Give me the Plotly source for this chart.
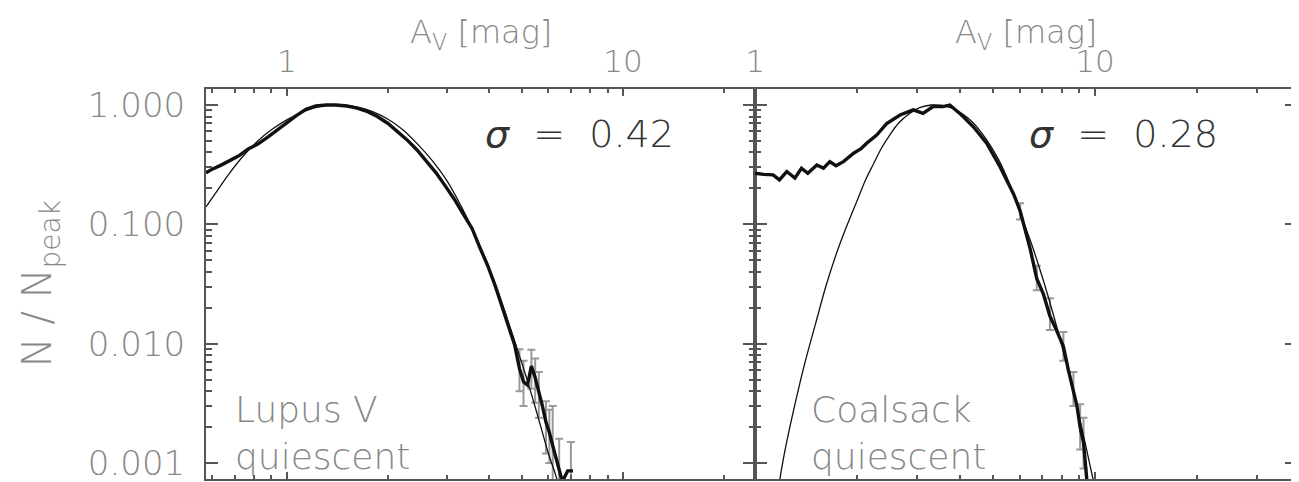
import plotly.graph_objects as go

# ---------------- data ----------------
# Lupus V (left panel) : observed normalised distribution
lupus_x = [0.575, 0.60, 0.64, 0.68, 0.72, 0.77, 0.82, 0.88, 0.94, 1.0, 1.07, 1.14, 1.22, 1.31,
           1.40, 1.51, 1.62, 1.74, 1.86, 2.0, 2.14, 2.28, 2.44, 2.6, 2.78, 2.96, 3.16, 3.36,
           3.56, 3.76, 3.96, 4.16, 4.36, 4.56, 4.76, 4.92, 5.06, 5.2, 5.34, 5.48, 5.62, 5.76,
           5.9, 6.04, 6.18, 6.32, 6.46, 6.6, 6.85, 7.1]
lupus_y = [0.27, 0.29, 0.315, 0.345, 0.375, 0.43, 0.47, 0.54, 0.62, 0.72, 0.82, 0.92, 0.98, 1.0,
           1.0, 0.98, 0.94, 0.88, 0.80, 0.70, 0.60, 0.51, 0.42, 0.34, 0.27, 0.21, 0.16, 0.12,
           0.092, 0.063, 0.045, 0.031, 0.021, 0.014, 0.0098, 0.0062, 0.0048, 0.0045, 0.0065,
           0.0052, 0.0040, 0.0030, 0.0022, 0.0018, 0.0014, 0.0011, 0.0009, 0.0007, 0.00086, 0.00086]
# Lupus V lognormal fit (thin line)
lupus_fit_x = [0.575, 0.62, 0.67, 0.74, 0.82, 0.9, 1.0, 1.1, 1.2, 1.3, 1.4, 1.5, 1.65, 1.8, 2.0,
               2.2, 2.45, 2.7, 3.0, 3.3, 3.6, 3.9, 4.2, 4.5, 4.8, 5.1, 5.4, 5.7, 6.0, 6.3, 6.6]
lupus_fit_y = [0.14, 0.19, 0.26, 0.37, 0.50, 0.62, 0.75, 0.86, 0.94, 0.99, 1.0, 0.99, 0.95, 0.88,
               0.76, 0.63, 0.47, 0.345, 0.23, 0.142, 0.086, 0.051, 0.030, 0.017, 0.0098, 0.0058,
               0.0034, 0.0020, 0.0012, 0.0008, 0.0005]
# Lupus V error bars (tail)
lupus_err_x = [4.92, 5.06, 5.34, 5.48, 5.62, 5.9, 6.04, 6.18, 6.46, 7.0]
lupus_err_y = [0.0062, 0.0048, 0.0065, 0.0052, 0.0040, 0.0022, 0.0018, 0.0014, 0.0009, 0.00086]
lupus_err_hi = [0.009, 0.0072, 0.0089, 0.0075, 0.0058, 0.0033, 0.0028, 0.0030, 0.0016, 0.0015]
lupus_err_lo = [0.004, 0.0030, 0.0042, 0.0032, 0.0024, 0.0012, 0.0010, 0.0007, 0.0004, 0.0004]

# Coalsack (right panel) : observed normalised distribution
coal_x = [1.0, 1.06, 1.13, 1.18, 1.24, 1.31, 1.37, 1.43, 1.52, 1.59, 1.66, 1.73, 1.82, 1.95,
          2.05, 2.13, 2.28, 2.44, 2.67, 2.92, 3.12, 3.34, 3.57, 3.74, 4.0, 4.38, 4.8, 5.25,
          5.76, 6.02, 6.44, 6.74, 7.05, 7.37, 7.7, 8.07, 8.35, 8.64, 8.85, 9.04, 9.25, 9.47]
coal_y = [0.268, 0.262, 0.26, 0.236, 0.277, 0.244, 0.295, 0.268, 0.314, 0.295, 0.335, 0.31,
          0.335, 0.394, 0.43, 0.478, 0.56, 0.70, 0.825, 0.91, 0.85, 0.97, 0.97, 1.0, 0.85, 0.66,
          0.478, 0.305, 0.18, 0.13, 0.063, 0.035, 0.026, 0.017, 0.013, 0.0095, 0.006, 0.0041,
          0.003, 0.002, 0.00148, 0.0007]
# Coalsack lognormal fit (thin line)
coal_fit_x = [1.17, 1.22, 1.3, 1.4, 1.51, 1.62, 1.74, 1.87, 2.0, 2.12, 2.23, 2.36, 2.49, 2.65,
              2.85, 3.05, 3.3, 3.55, 3.8, 4.1, 4.4, 4.8, 5.2, 5.6, 6.0, 6.5, 7.0, 7.5, 8.0, 8.5,
              9.0, 9.5, 9.9]
coal_fit_y = [0.0006, 0.0012, 0.0028, 0.0068, 0.015, 0.031, 0.058, 0.10, 0.16, 0.24, 0.32, 0.44,
              0.56, 0.71, 0.85, 0.95, 1.0, 0.99, 0.94, 0.83, 0.70, 0.51, 0.35, 0.22, 0.128,
              0.069, 0.036, 0.0185, 0.0094, 0.0047, 0.0024, 0.0012, 0.0007]
# Coalsack error bars (tail)
coal_err_x = [6.02, 6.74, 7.37, 8.07, 8.64, 9.04, 9.25]
coal_err_y = [0.13, 0.035, 0.017, 0.0095, 0.0041, 0.002, 0.00148]
coal_err_hi = [0.15, 0.045, 0.024, 0.0125, 0.0058, 0.0031, 0.0024]
coal_err_lo = [0.11, 0.028, 0.013, 0.0072, 0.003, 0.0013, 0.0009]

# tick labels
x_tick_vals = [1, 10]
x_tick_text = ["1", "10"]
y_tick_vals = [0.001, 0.01, 0.1, 1.0]
y_tick_text = ["0.001", "0.010", "0.100", "1.000"]
x_minor_left = [0.6, 0.7, 0.8, 0.9, 2, 3, 4, 5, 6, 7, 8, 9, 20]
x_minor_right = [2, 3, 4, 5, 6, 7, 8, 9, 20, 30]
y_minor = [m * d for d in (0.001, 0.01, 0.1) for m in (2, 3, 4, 5, 6, 7, 8, 9)]

sigma_labels = ["<i>σ</i>  =  0.42", "<i>σ</i>  =  0.28"]
cloud_labels = ["Lupus V<br>quiescent", "Coalsack<br>quiescent"]

# ---------------- figure ----------------
FONT = "DejaVu Sans"
AX = "#555555"
GREY = "#888888"

fig = go.Figure()


def add_panel(xs, ys, fx, fy, ex, ey, ehi, elo, xa, ya):
    fig.add_trace(go.Scatter(
        x=ex, y=ey, mode="markers", marker=dict(size=1, color="rgba(0,0,0,0)"),
        error_y=dict(type="data", symmetric=False,
                     array=[h - v for h, v in zip(ehi, ey)],
                     arrayminus=[v - l for v, l in zip(ey, elo)],
                     color="#9a9a9a", thickness=2, width=4),
        xaxis=xa, yaxis=ya, showlegend=False, hoverinfo="skip"))
    fig.add_trace(go.Scatter(x=fx, y=fy, mode="lines", line=dict(color="#111111", width=1.3,
                                                                  shape="spline"),
                             xaxis=xa, yaxis=ya, showlegend=False))
    fig.add_trace(go.Scatter(x=xs, y=ys, mode="lines", line=dict(color="#111111", width=3.4),
                             xaxis=xa, yaxis=ya, showlegend=False))


add_panel(lupus_x, lupus_y, lupus_fit_x, lupus_fit_y, lupus_err_x, lupus_err_y,
          lupus_err_hi, lupus_err_lo, "x", "y")
add_panel(coal_x, coal_y, coal_fit_x, coal_fit_y, coal_err_x, coal_err_y,
          coal_err_hi, coal_err_lo, "x2", "y2")

split = 549 / 1091

xcommon = dict(type="log", side="top", tickmode="array", tickvals=x_tick_vals,
               ticktext=x_tick_text, ticks="inside", ticklen=7, tickwidth=2, tickcolor=AX,
               showline=True, linecolor=AX, linewidth=2, mirror="ticks", showgrid=False,
               zeroline=False, tickfont=dict(family=FONT, size=31, color=GREY, weight=300),
               ticklabelstandoff=3, automargin=False)
ycommon = dict(type="log", range=[-3.134, 0.134], tickmode="array", tickvals=y_tick_vals,
               ticks="inside", ticklen=12, tickwidth=2, tickcolor=AX, showline=True,
               linecolor=AX, linewidth=2, mirror="ticks", showgrid=False, zeroline=False,
               automargin=False,
               minor=dict(tickmode="array", tickvals=y_minor, ticks="inside", ticklen=6,
                          tickwidth=1.5, tickcolor=AX, showgrid=False))

# the page body adds an 8 px offset; the figure runs slightly past the window's lower edge
fig.update_layout(
    width=1291, height=482,
    margin=dict(l=198, r=2, t=81, b=11, autoexpand=False),
    paper_bgcolor="white", plot_bgcolor="white",
    xaxis=dict(domain=[0, split], range=[-0.2403, 1.3927], anchor="y",
               minor=dict(tickmode="array", tickvals=x_minor_left, ticks="inside", ticklen=4,
                          tickwidth=1.5, tickcolor=AX, showgrid=False), **xcommon),
    xaxis2=dict(domain=[split, 1], range=[0, 1.594], anchor="y2",
                minor=dict(tickmode="array", tickvals=x_minor_right, ticks="inside",
                           ticklen=4, tickwidth=1.5, tickcolor=AX, showgrid=False), **xcommon),
    yaxis=dict(anchor="x", ticktext=y_tick_text,
               tickfont=dict(family=FONT, size=34, color=GREY, weight=300),
               ticklabelstandoff=12, **ycommon),
    yaxis2=dict(anchor="x2", showticklabels=False, **ycommon),
)

# axis titles
for xr in ("x domain", "x2 domain"):
    fig.add_annotation(text="A<sub>V</sub> [mag]", xref=xr, yref="y domain", x=0.5, y=1.14,
                       xanchor="center", yanchor="middle", showarrow=False,
                       font=dict(family=FONT, size=32, color=GREY, weight=300))
fig.add_annotation(text="N / N<sub>peak</sub>", xref="paper", yref="paper", x=-0.152, y=0.5,
                   xanchor="center", yanchor="middle", textangle=-90, showarrow=False,
                   font=dict(family=FONT, size=40, color=GREY, weight=300))

# panel texts
for xr, yr, s in (("x domain", "y domain", sigma_labels[0]),
                  ("x2 domain", "y2 domain", sigma_labels[1])):
    fig.add_annotation(text=s, xref=xr, yref=yr, x=0.68, y=0.885, xanchor="center",
                       yanchor="middle", showarrow=False,
                       font=dict(family=FONT, size=38, color="#333333", weight=300))
for xr, yr, c, xp in (("x domain", "y domain", cloud_labels[0], 0.05),
                      ("x2 domain", "y2 domain", cloud_labels[1], 0.1)):
    fig.add_annotation(text=c, xref=xr, yref=yr, x=xp, y=0.0, xanchor="left",
                       yanchor="bottom", align="left", showarrow=False,
                       font=dict(family=FONT, size=36, color=GREY, weight=300))

fig.write_html("out.html")
